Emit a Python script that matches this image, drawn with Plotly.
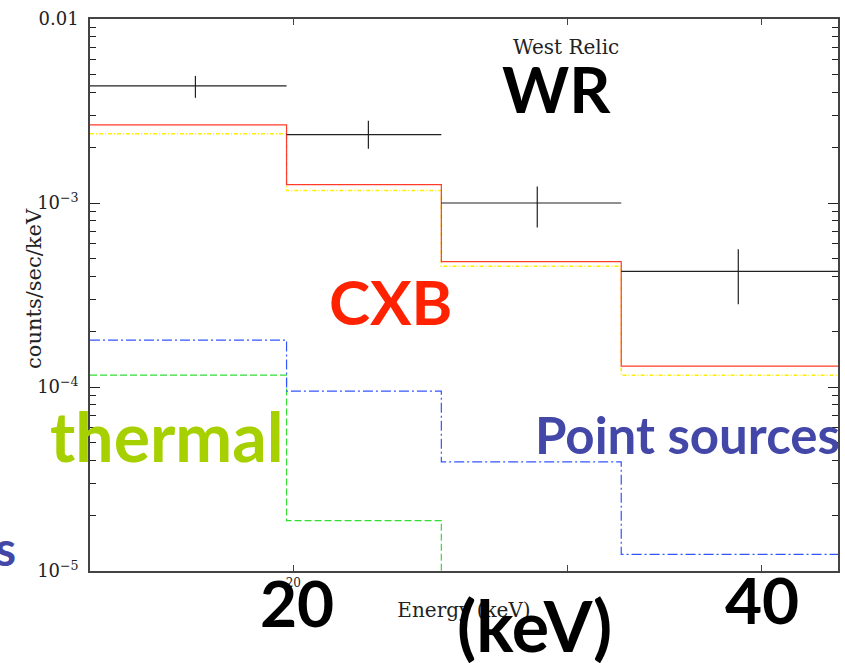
import math
import plotly.graph_objects as go

# ---------------- data ----------------
energy_edges = [14.8, 19.8, 24.9, 32.5, 44.8]          # keV, bin edges
data_rate = [4.33e-3, 2.35e-3, 1.00e-3, 4.25e-4]        # counts/sec/keV
data_hi = [4.91e-3, 2.80e-3, 1.23e-3, 5.60e-4]
data_lo = [3.73e-3, 1.97e-3, 7.36e-4, 2.82e-4]
model_total = [2.66e-3, 1.26e-3, 4.80e-4, 1.30e-4]      # red
model_cxb = [2.38e-3, 1.17e-3, 4.53e-4, 1.16e-4]        # yellow
model_point = [1.80e-4, 9.50e-5, 3.92e-5, 1.23e-5]      # blue
model_thermal = [1.16e-4, 1.88e-5, 2.0e-6, 2.0e-7]      # green
x_tick_vals = [20, 30, 40]
x_tick_text = ["20", "", ""]
y_tick_vals = [1e-5, 1e-4, 1e-3, 1e-2]
y_tick_text = ["10<sup>\u22125</sup>", "10<sup>\u22124</sup>", "10<sup>\u22123</sup>", "0.01"]

centers = [(energy_edges[i] + energy_edges[i + 1]) / 2 for i in range(4)]
half_lo = [c - energy_edges[i] for i, c in enumerate(centers)]
half_hi = [energy_edges[i + 1] - c for i, c in enumerate(centers)]
err_plus = [h - v for h, v in zip(data_hi, data_rate)]
err_minus = [v - l for l, v in zip(data_lo, data_rate)]

fig = go.Figure()


def step(values, color, dash, width=1.2):
    fig.add_trace(go.Scatter(
        x=energy_edges, y=values + [values[-1]], mode="lines",
        line=dict(shape="hv", color=color, dash=dash, width=width),
        showlegend=False, hoverinfo="skip"))


step(model_thermal, "#33dd33", "7px,3px")
step(model_point, "#3355ff", "10px,3px,2px,3px")
step(model_cxb, "#ffee00", "4px,2px,1px,2px", width=1.5)
step(model_total, "#ff3c28", "solid")

fig.add_trace(go.Scatter(
    x=centers, y=data_rate, mode="markers",
    marker=dict(size=1, color="#222222"),
    error_x=dict(type="data", symmetric=False, array=half_hi, arrayminus=half_lo,
                 width=0, thickness=1.2, color="#222222"),
    error_y=dict(type="data", symmetric=False, array=err_plus, arrayminus=err_minus,
                 width=0, thickness=1.2, color="#222222"),
    showlegend=False))

serif = "DejaVu Serif"
fig.update_xaxes(
    type="log", range=[math.log10(energy_edges[0]), math.log10(energy_edges[-1])],
    tickvals=x_tick_vals, ticktext=x_tick_text, ticks="inside", ticklen=6,
    tickcolor="#444", tickwidth=1, showline=True, linecolor="#444", linewidth=1.5,
    mirror="ticks", showgrid=False, zeroline=False, automargin=False,
    tickfont=dict(family=serif, size=12, color="#222"),
    title=dict(text="Energy (keV)", font=dict(family=serif, size=20, color="#222"), standoff=14))

minor_vals = [m * 10 ** e for e in (-5, -4, -3) for m in range(2, 10)]
fig.update_yaxes(
    type="log", range=[-5, -2], tickvals=y_tick_vals, ticktext=y_tick_text,
    ticks="inside", ticklen=10, tickcolor="#222", tickwidth=1.2,
    minor=dict(tickmode="array", tickvals=minor_vals, ticks="inside", ticklen=6,
               tickcolor="#222", tickwidth=1, showgrid=False),
    showline=True, linecolor="#444", linewidth=1.5, mirror="ticks",
    showgrid=False, zeroline=False, automargin=False, ticklabelstandoff=6,
    tickfont=dict(family=serif, size=18, color="#222"))

L, R, T, B = 90, 7, 19, 92
W, H = 845, 663
pw, ph = W - L - R, H - T - B


def px(xp, yp):
    return (xp - L) / pw, (H - B - yp) / ph


# y-axis title (placed between the tick labels, as in the reference)
x, y = px(34, 289)
fig.add_annotation(x=x, y=y, xref="paper", yref="paper", text="counts/sec/keV",
                   showarrow=False, textangle=-90, xanchor="center", yanchor="middle",
                   font=dict(family=serif, size=21, color="#222"))


def big(text, xc, baseline, size, color, xanchor="center"):
    x, y = px(xc, baseline - 0.36 * size)
    fig.add_annotation(x=x, y=y, xref="paper", yref="paper", text=text, showarrow=False,
                       xanchor=xanchor, yanchor="middle",
                       font=dict(family="Lato", size=size, color=color, weight="bold"))


big("WR", 556, 112, 64, "#000000")
big("CXB", 390, 323, 62, "#ff2200")
big("thermal", 167, 460, 68, "#a6d000")
big("Point sources", 687, 453, 51, "#4348a8")
big("s", 18, 565, 48, "#4348a8", xanchor="right")
big("20", 297, 626, 64, "#000000")
big("40", 762, 623, 64, "#000000")
big("(keV)", 534, 650, 70, "#000000")

x, y = px(566, 47)
fig.add_annotation(x=x, y=y, xref="paper", yref="paper", text="West Relic", showarrow=False,
                   xanchor="center", yanchor="middle",
                   font=dict(family=serif, size=20, color="#222"))

fig.update_layout(width=W, height=H, margin=dict(l=L, r=R, t=T, b=B),
                  paper_bgcolor="white", plot_bgcolor="white", template=None)

fig.write_html("out.html")
